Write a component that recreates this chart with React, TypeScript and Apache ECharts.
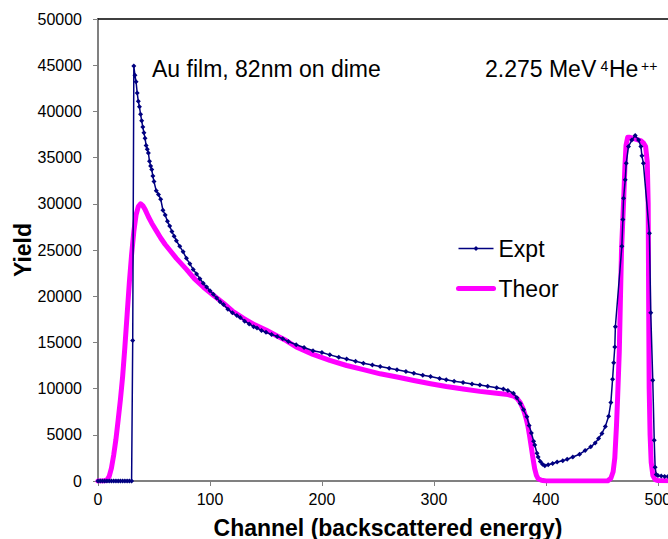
import React, { useEffect, useRef } from 'react';
import * as echarts from 'echarts';

const exptChannels = [
  0, 2, 4, 6, 8, 10, 12, 14, 16, 18, 20, 22, 24, 26, 28, 30,
  31, 32, 33, 34, 35, 36, 37, 38, 39, 40, 41, 42, 43, 44, 45, 46, 47, 48, 49, 50,
  52, 54, 56, 58, 60, 62, 64, 66, 68, 70, 73, 76, 79, 82, 85, 88, 91, 94, 97, 100,
  103, 106, 109, 112, 116, 120, 124, 127, 131, 135, 139, 142, 146, 150, 155, 160,
  165, 170, 177, 184, 192, 200, 207, 215, 222, 230, 237, 245, 252, 260, 267, 275,
  282, 290, 297, 305, 311, 318, 326, 334, 341, 348, 356, 362, 366, 371, 374, 377,
  380, 383, 385, 387, 389, 390, 392, 393, 395, 397, 399, 402, 406, 410, 415, 419,
  424, 430, 435, 440, 444, 447, 450, 453, 456, 458, 459.5, 460.5, 461.5, 462,
  467.8, 468.7, 469.3, 470.8, 471.7, 473.7, 476.7, 479.7, 482.7, 484.8, 485.7, 487,
  492.4, 493.6, 495.4, 496.7, 497.5, 498.5, 500, 503, 506, 509,
];
const exptYield = [
  0, 0, 0, 0, 0, 0, 0, 0, 0, 0, 0, 0, 0, 0, 0, 0,
  15200, 44900, 43900, 43200, 42000, 41100, 40500, 39700, 39000, 38300, 37700, 37100, 36300, 35900, 35500, 34600, 34100, 33700, 33000, 32400,
  31400, 31000, 30500, 29300, 28800, 28100, 27600, 27000, 26500, 26000, 25400, 24800, 24100, 23500, 22900, 22400, 21900, 21400, 21000, 20600,
  20200, 19800, 19400, 19100, 18600, 18200, 17900, 17700, 17300, 17000, 16700, 16550, 16300, 16100, 15850, 15650,
  15400, 15100, 14750, 14450, 14100, 13900, 13650, 13400, 13200, 12950, 12750, 12550, 12400, 12200, 12050, 11850,
  11650, 11450, 11300, 11100, 10950, 10800, 10650, 10500, 10400, 10250, 10100, 9950, 9800, 9500, 9000, 8400,
  7700, 6950, 6000, 5200, 4300, 3900, 3000, 2600, 2100, 1800, 1650, 1750, 1900, 2050, 2200, 2350,
  2600, 2900, 3300, 3700, 4100, 4600, 5150, 5900, 7000, 8500, 11000, 12800, 14500, 16700,
  25400, 28300, 30600, 32600, 34400, 36200, 36900, 37400, 36900, 36200, 35200, 34400,
  26800, 18200, 10900, 4400, 1500, 700, 600, 550, 500, 500,
];

const theorChannels = [
  0, 5, 8, 10, 12, 14, 16, 18, 20, 22, 24, 26, 28, 30, 32, 34, 36, 38, 40, 42,
  45, 48, 52, 56, 60, 64, 70, 79, 86, 94, 103, 112, 120, 130, 140, 150, 160, 168, 177, 192,
  207, 222, 237, 252, 267, 282, 297, 311, 326, 341, 356, 366, 371, 374, 377, 380, 382, 384, 385.5, 387,
  388.5, 390, 391.5, 393, 396, 400, 420, 440, 452, 455, 458, 460, 461.5, 463, 464, 465.5, 466.5, 467.5, 469.4, 470.5,
  471.5, 473, 475, 480, 485, 487, 489, 490.5, 491.3, 491.7, 492.2, 493, 494, 495.5, 497.5, 500, 509,
];
const theorYield = [
  0, 0, 100, 500, 1400, 2800, 4500, 6600, 8800, 11300, 14500, 18000, 21500, 24500, 27000, 28800, 29700, 30000, 29800, 29400,
  28600, 27900, 27100, 26300, 25600, 25000, 24100, 22900, 21900, 21000, 20100, 19250, 18400, 17600, 16900, 16350, 15700, 15200, 14500, 13700,
  13050, 12500, 12050, 11600, 11250, 10870, 10520, 10220, 9950, 9700, 9500, 9350, 9200, 8950, 8500, 7700, 6900, 5900, 4800, 3600,
  2400, 1300, 600, 250, 80, 0, 0, 0, 0, 0, 300, 1000, 2500, 6000, 9000, 14000, 19600, 25000, 30400, 34000,
  36300, 37200, 37200, 37000, 36800, 36600, 36200, 34500, 30000, 20000, 10000, 5000, 2000, 600, 150, 50, 30,
];

const seriesNames = ['Expt', 'Theor'];
const xAxisTitle = 'Channel (backscattered energy)';
const yAxisTitle = 'Yield';
const sampleNote = 'Au film, 82nm on dime';
const beamParts = ['2.275 MeV', '4', 'He', '++'];

const FONT = '"Liberation Sans", Arial, Helvetica, sans-serif';

export default function App() {
  const ref = useRef<HTMLDivElement>(null);

  useEffect(() => {
    if (!ref.current) return;
    const chart = echarts.init(ref.current, null, { renderer: 'svg' });
    const exptData = exptChannels.map((c, i) => [c, exptYield[i]]);
    const theorData = theorChannels.map((c, i) => [c, theorYield[i]]);

    chart.setOption({
      animation: false,
      backgroundColor: '#ffffff',
      textStyle: { fontFamily: FONT },
      grid: { left: 98, top: 19, right: 0, bottom: 58, outerBoundsMode: 'none', containLabel: false },
      legend: {
        orient: 'vertical',
        left: 456,
        top: 237,
        padding: 0,
        itemWidth: 35,
        itemHeight: 6,
        itemGap: 17,
        selectedMode: false,
        data: [
          { name: seriesNames[0], lineStyle: { width: 1.5, color: '#000080' } },
          { name: seriesNames[1], lineStyle: { width: 5, color: '#FF00FF' }, itemStyle: { opacity: 0 } },
        ],
        textStyle: { fontSize: 23, color: '#000', fontFamily: FONT },
      },
      xAxis: [
        {
          type: 'value',
          position: 'bottom',
          min: 0,
          max: 509,
          interval: 100,
          axisLine: { show: true, onZero: false, lineStyle: { color: '#808080', width: 2 } },
          axisTick: { show: true, length: 5, lineStyle: { color: '#808080', width: 1 } },
          axisLabel: {
            fontSize: 16,
            color: '#000',
            margin: 10,
            showMaxLabel: false,
            fontFamily: FONT,
            formatter: (v: number) => (v % 100 === 0 ? String(v) : ''),
          },
          splitLine: { show: false },
          name: xAxisTitle,
          nameLocation: 'middle',
          nameGap: 35,
          nameTextStyle: { fontSize: 23, fontWeight: 'bold', color: '#000', fontFamily: FONT, padding: [0, 0, 0, 10] },
        },
        {
          type: 'value',
          position: 'top',
          min: 0,
          max: 509,
          axisLine: { show: true, onZero: false, lineStyle: { color: '#000', width: 1.5 } },
          axisTick: { show: false },
          axisLabel: { show: false },
          splitLine: { show: false },
        },
      ],
      yAxis: {
        type: 'value',
        min: 0,
        max: 50000,
        interval: 5000,
        axisLine: { show: true, lineStyle: { color: '#808080', width: 2 } },
        axisTick: { show: true, length: 5, lineStyle: { color: '#808080', width: 1 } },
        axisLabel: { fontSize: 16, color: '#000', margin: 16, fontFamily: FONT, formatter: (v: number) => String(v) },
        splitLine: { show: false },
        name: yAxisTitle,
        nameLocation: 'middle',
        nameGap: 64,
        nameMoveOverlap: false,
        nameTextStyle: { fontSize: 23, fontWeight: 'bold', color: '#000', fontFamily: FONT },
      },
      series: [
        {
          name: seriesNames[0],
          type: 'line',
          data: exptData,
          symbol: 'diamond',
          symbolSize: 5,
          showSymbol: true,
          showAllSymbol: true,
          lineStyle: { color: '#000080', width: 1.5 },
          itemStyle: { color: '#000080' },
          z: 3,
        },
        {
          name: seriesNames[1],
          type: 'line',
          data: theorData,
          symbol: 'none',
          showSymbol: false,
          lineStyle: { color: '#FF00FF', width: 5, join: 'round', cap: 'round' },
          itemStyle: { color: '#FF00FF' },
          z: 2,
        },
      ],
      graphic: [
        {
          type: 'text',
          x: 152,
          y: 69,
          style: { text: sampleNote, fontSize: 23, fontFamily: FONT, fill: '#000', align: 'left', verticalAlign: 'middle' },
        },
        {
          type: 'text',
          x: 485,
          y: 69,
          style: { text: beamParts[0], fontSize: 23, fontFamily: FONT, fill: '#000', align: 'left', verticalAlign: 'middle' },
        },
        {
          type: 'text',
          x: 600.5,
          y: 66,
          style: { text: beamParts[1], fontSize: 14, fontFamily: FONT, fill: '#000', align: 'left', verticalAlign: 'middle' },
        },
        {
          type: 'text',
          x: 609,
          y: 69,
          style: { text: beamParts[2], fontSize: 23, fontFamily: FONT, fill: '#000', align: 'left', verticalAlign: 'middle' },
        },
        {
          type: 'text',
          x: 641,
          y: 66,
          style: { text: beamParts[3], fontSize: 14, fontFamily: FONT, fill: '#000', align: 'left', verticalAlign: 'middle' },
        },
      ],
    });

    return () => chart.dispose();
  }, []);

  return (
    <div
      ref={ref}
      style={{ position: 'fixed', left: 0, top: 0, width: 668, height: 539, background: '#ffffff' }}
    />
  );
}
